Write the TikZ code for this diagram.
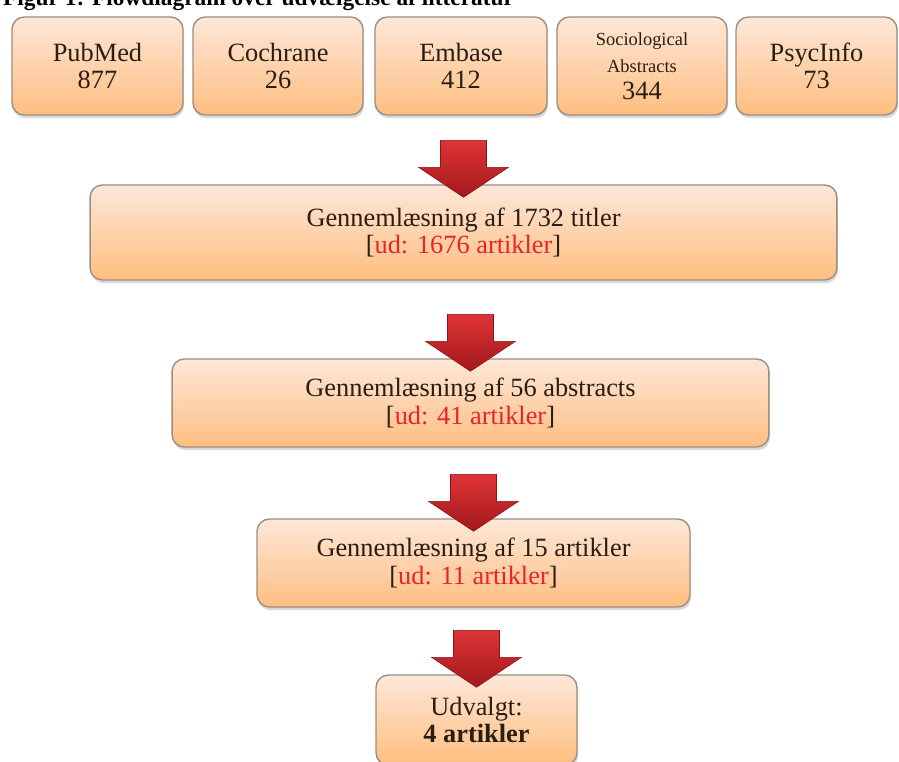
\documentclass[tikz,border=0pt]{standalone}
\usepackage{fontspec}
\setmainfont{Liberation Serif}
\usetikzlibrary{calc,shadows}

\definecolor{boxtop}{HTML}{FDE7D8}
\definecolor{boxmid}{HTML}{FDD4B4}
\definecolor{boxbot}{HTML}{FFBE80}
\definecolor{boxedge}{HTML}{9C8E82}
\definecolor{boxtext}{HTML}{2A1E14}
\definecolor{arrowtop}{HTML}{DE3436}
\definecolor{arrowbot}{HTML}{A3181B}
\definecolor{udred}{HTML}{E82428}

\newcommand{\udtxt}[1]{[\textcolor{udred}{ud: #1 artikler}]}

\tikzset{
  boite/.style={draw=boxedge, line width=0.8pt, rounded corners=7pt,
    top color=boxtop, middle color=boxmid, bottom color=boxbot,
    drop shadow={shadow xshift=0.6pt, shadow yshift=-1.8pt, opacity=0.3},
    align=center, text=boxtext, inner sep=0pt,
    font=\fontsize{15}{15.5}\selectfont},
  fleche/.style={top color=arrowtop, bottom color=arrowbot,
    draw=arrowbot!85!black, line width=0.3pt}
}

\begin{document}
\begin{tikzpicture}[x=0.02cm, y=-0.02cm]
    % Cadre
    \useasboundingbox (0,0) rectangle (899,761);

    % Titre
    \node[anchor=base west, font=\bfseries\fontsize{13.3}{14}\selectfont] (titre) at (-3,5)
        {Figur 1: Flowdiagram over udvælgelse af litteratur};

    % Databaser
    \foreach \nom/\x/\w/\txt in {pubmed/97.5/171/{PubMed\\877},
                               cochrane/278/170/{Cochrane\\26},
                               embase/461/172/{Embase\\412},
                               socio/642/170/{\fontsize{10.5}{12.5}\selectfont Sociological\\\fontsize{10.5}{12.5}\selectfont Abstracts\\\fontsize{15}{15.5}\selectfont 344},
                               psyc/816.5/161/{PsycInfo\\73}}
        \node[boite, minimum width=\w*0.02cm, minimum height=1.96cm] (\nom) at (\x,66) {\txt};

    % Etaper
    \node[boite, minimum width=14.94cm, minimum height=1.9cm] (titler) at (463.5,232.5)
        {Gennemlæsning af 1732 titler\\\udtxt{1676}};
    \node[boite, minimum width=11.94cm, minimum height=1.76cm] (abstracts) at (470.5,403)
        {Gennemlæsning af 56 abstracts\\\udtxt{41}};
    \node[boite, minimum width=8.66cm, minimum height=1.76cm] (artikler) at (473.5,563)
        {Gennemlæsning af 15 artikler\\\udtxt{11}};
    \node[boite, minimum width=4.02cm, minimum height=1.8cm] (udvalgt) at (476.5,720)
        {Udvalgt:\\\textbf{4 artikler}};

    % Pile
    \foreach \cible in {titler, abstracts, artikler, udvalgt}
        \path[fleche] ($(\cible.north)+(0,13)$) ++(-23,-57) -- ++(46,0) -- ++(0,27)
            -- ++(22,0) -- ($(\cible.north)+(0,13)$) -- ++(-45,-30) -- ++(22,0) -- cycle;

\end{tikzpicture}
\end{document}
